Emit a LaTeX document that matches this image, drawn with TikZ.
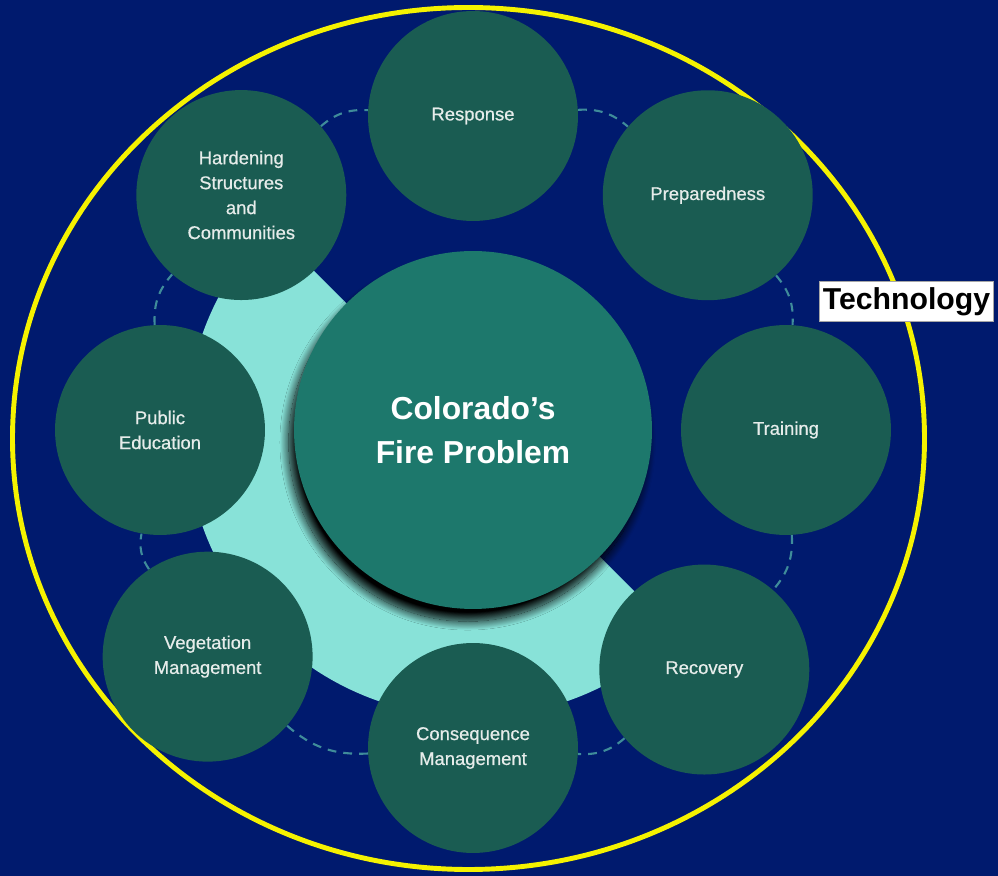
\documentclass[tikz,border=0pt]{standalone}
\usepackage{fontspec}
\setmainfont{Liberation Sans}
\newfontfamily\topicfont[FakeBold=0.6]{Liberation Sans}
\usetikzlibrary{shadows.blur}

\definecolor{navy}{HTML}{001A6E}
\definecolor{ringyellow}{HTML}{F5F200}
\definecolor{halfcyan}{HTML}{88E2D8}
\definecolor{coregreen}{HTML}{1D786C}
\definecolor{topicgreen}{HTML}{1A5C52}
\definecolor{topictext}{HTML}{E6ECEA}
\definecolor{dashteal}{HTML}{3F8C9A}

\tikzset{
  topic/.style={circle, fill=topicgreen, minimum size=4.2cm, inner sep=0pt,
    align=center, text=topictext, font=\topicfont\fontsize{10.5}{14.2}\selectfont},
  core/.style={circle, fill=coregreen, minimum size=7.16cm, inner sep=0pt,
    align=center, text=white, font=\bfseries\fontsize{18.1}{25}\selectfont,
    blur shadow={shadow xshift=-3pt, shadow yshift=-7pt,
      shadow blur radius=5pt, shadow blur steps=30, shadow opacity=100}},
  link/.style={draw=dashteal, line width=1.2pt, dash pattern=on 5pt off 4pt},
  tag/.style={fill=white, draw=gray!70, thin, inner xsep=2pt,
    minimum height=0.74cm, font=\bfseries\fontsize{17.2}{20}\selectfont},
}

\begin{document}
\begin{tikzpicture}[x=0.02cm, y=0.02cm]

    % backdrop
    \fill[navy] (0,0) rectangle (998,876);
    \useasboundingbox (0,0) rectangle (998,876);
    \coordinate (c) at (473,446);

    % outer yellow ring
    \draw[ringyellow, line width=2.8pt] (468.5,437.5) ellipse [x radius=456, y radius=431];

    % light half disc behind the core
    \fill[halfcyan] (c) -- ++(135:287) arc[start angle=135, end angle=315, radius=287] -- cycle;

    % core
    \node[core] (fire) at (c) {Colorado’s\\Fire Problem};

    % topics, clockwise from the top
    \node[topic] (resp) at ([shift={(90:314)}]c) {Response};
    \node[topic] (prep) at ([shift={(45:332)}]c) {Preparedness};
    \node[topic] (train) at ([shift={(0:313)}]c) {Training};
    \node[topic] (recov) at ([shift={(-46:333)}]c) {Recovery};
    \node[topic] (conseq) at ([shift={(-90:318)}]c) {Consequence\\Management};
    \node[topic] (veg) at ([shift={(220.5:349)}]c) {Vegetation\\Management};
    \node[topic] (pub) at ([shift={(180:313)}]c) {Public\\Education};
    \node[topic] (hard) at ([shift={(134.6:330)}]c) {Hardening\\Structures\\and\\Communities};

    % dashed ring between topics
    \foreach \a/\b in {hard/resp, resp/prep, prep/train, train/recov,
                       recov/conseq, conseq/veg, veg/pub, pub/hard}
        \draw[link] (\a) to[bend left=22] (\b);

    % label
    \node[tag] (tech) at (906.5,574.5) {Technology};

\end{tikzpicture}
\end{document}
